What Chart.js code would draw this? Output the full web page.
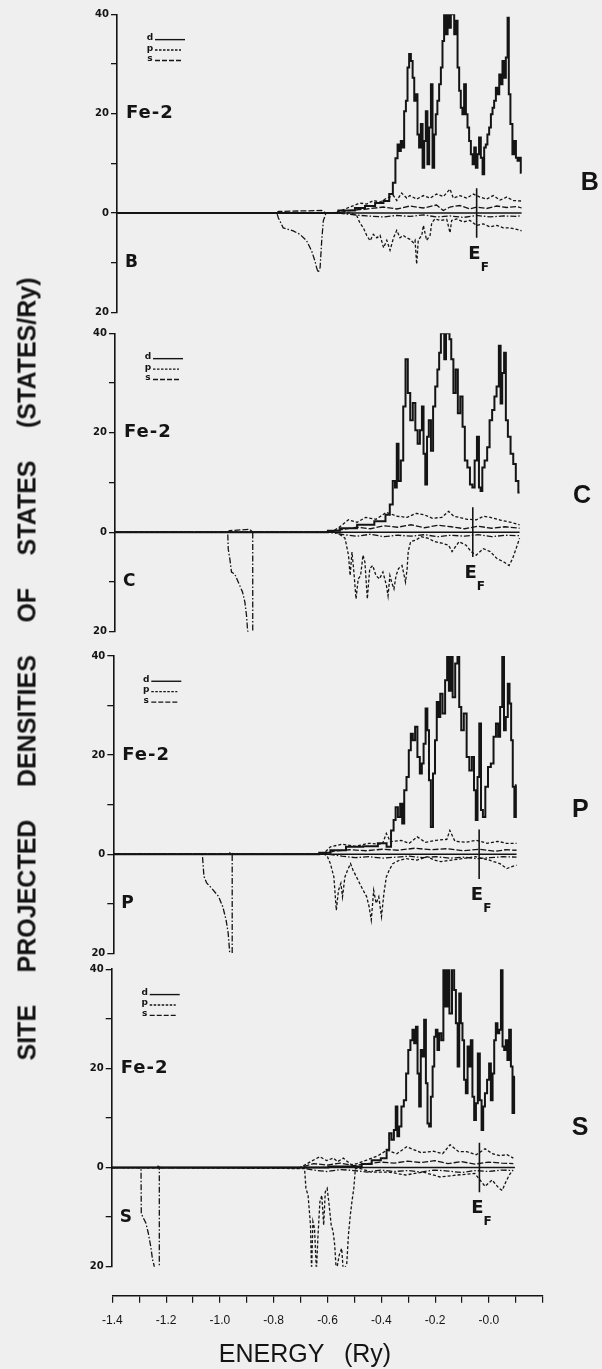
<!DOCTYPE html>
<html>
<head>
<meta charset="utf-8">
<script src="https://cdn.jsdelivr.net/npm/chart.js@4.4.0/dist/chart.umd.min.js"></script>
<style>
  html, body { margin: 0; padding: 0; background: #efefef; }
  #page { position: relative; width: 602px; height: 1369px; overflow: hidden; }
  canvas { position: absolute; left: 0; }
  #ytitle {
    position: absolute; left: -365.5px; top: 653.5px; width: 783px; height: 30px;
    display: flex; justify-content: space-between; align-items: center;
    transform: rotate(-90deg); transform-origin: center;
    font: bold 25px "Liberation Sans", Arial, sans-serif; color: #141414; line-height: 30px;
  }
  #xtitle {
    position: absolute; left: 205px; width: 200px; top: 1338px; height: 30px;
    text-align: center; word-spacing: 13px;
    font: 25px "Liberation Sans", Arial, sans-serif; color: #141414; line-height: 30px;
  }
</style>
</head>
<body>
<div id="page">
  <canvas id="panelB"></canvas>
  <canvas id="panelC"></canvas>
  <canvas id="panelP"></canvas>
  <canvas id="panelS"></canvas>
  <canvas id="axisX"></canvas>
  <div id="ytitle"><span>SITE</span><span>PROJECTED</span><span>DENSITIES</span><span>OF</span><span>STATES</span><span>(STATES/Ry)</span></div>
  <div id="xtitle">ENERGY (Ry)</div>
</div>
<script>
// axis ticks
const energyTicks = [-1.4, -1.2, -1.0, -0.8, -0.6, -0.4, -0.2, 0.0];
const energyTickLabels = ['-1.4', '-1.2', '-1.0', '-0.8', '-0.6', '-0.4', '-0.2', '-0.0'];
const dosTicks = [40, 20, 0, -20];
const dosTickLabels = ['40', '20', '0', '20'];

// ---- Fe-2 / B ----
const boronFermi = -0.063;
const boronEnergyD = [-1.4, -0.62, -0.534, -0.497, -0.459, -0.422, -0.397, -0.379, -0.370, -0.360, -0.354, -0.348, -0.342, -0.336, -0.329, -0.323, -0.317, -0.311, -0.304, -0.298, -0.292, -0.286, -0.280, -0.274, -0.267, -0.261, -0.255, -0.249, -0.243, -0.236, -0.230, -0.224, -0.218, -0.212, -0.206, -0.199, -0.193, -0.187, -0.181, -0.174, -0.168, -0.162, -0.156, -0.150, -0.143, -0.137, -0.131, -0.125, -0.119, -0.113, -0.106, -0.100, -0.094, -0.088, -0.081, -0.075, -0.069, -0.063, -0.057, -0.051, -0.044, -0.038, -0.032, -0.026, -0.020, -0.013, -0.007, -0.001, 0.005, 0.012, 0.018, 0.024, 0.030, 0.036, 0.042, 0.049, 0.055, 0.058, 0.067, 0.073, 0.080, 0.086, 0.092, 0.098, 0.104];
const boronFeD = [0, 0, 0.5, 1, 1.4, 2, 2.4, 3.8, 6.1, 11, 13.8, 12.5, 14.5, 13.2, 20.5, 22.6, 29.3, 32, 30.6, 27.2, 22.6, 23.9, 15.8, 13.2, 17.9, 9.1, 14.5, 20.5, 9.8, 17.2, 25.9, 9.1, 15.8, 19.9, 22.6, 25.9, 29.3, 34.6, 40, 36, 40, 37.3, 40, 40, 36, 38.7, 29.3, 24.6, 21.2, 19.9, 25.9, 19.9, 17.2, 14.5, 11.8, 9.8, 13.2, 9.1, 11.8, 15.2, 11.1, 7.8, 13.2, 13.8, 15.8, 17.2, 19.9, 21.2, 22.6, 25.2, 23.9, 27.9, 25.9, 30.6, 27.2, 31.3, 39.3, 23.9, 17.9, 11.8, 14.5, 11.1, 10.5, 11.1, 8.1];
const boronEnergyFeP = [-1.4, -0.596, -0.571, -0.534, -0.497, -0.472, -0.447, -0.422, -0.397, -0.372, -0.360, -0.342, -0.323, -0.311, -0.286, -0.261, -0.236, -0.212, -0.187, -0.162, -0.150, -0.125, -0.100, -0.075, -0.051, -0.026, -0.001, 0.024, 0.049, 0.073, 0.104];
const boronFeP = [0, 0, 0.4, 1.2, 2, 1.8, 2.5, 2.2, 3, 3.5, 2.5, 4, 3, 3.5, 2.8, 3.5, 3, 3.8, 3.3, 4.8, 3, 3.5, 3, 3.8, 3.2, 2.8, 3.5, 2.6, 3.2, 2.5, 2.4];
const boronEnergyFeS = [-1.4, -0.806, -0.80, -0.64, -0.623, -0.58, -0.534, -0.472, -0.409, -0.36, -0.311, -0.261, -0.212, -0.187, -0.162, -0.125, -0.088, -0.063, -0.026, 0.012, 0.049, 0.086, 0.104];
const boronFeS = [0, 0, 0.3, 0.5, 0, 0, 0.5, 0.8, 1.2, 0.8, 1.4, 1, 1.6, 0.5, 1.2, 1.5, 0.8, 1.2, 0.9, 1.4, 1.1, 1.3, 1];
const boronEnergyLigS = [-1.4, -0.806, -0.800, -0.782, -0.745, -0.720, -0.695, -0.676, -0.664, -0.658, -0.652, -0.645, -0.639, -0.633, -0.623, -0.58, -0.534, -0.472, -0.409, -0.36, -0.311, -0.261, -0.212, -0.162, -0.113, -0.063, -0.013, 0.036, 0.086, 0.104];
const boronLigS = [0, 0, -1, -3, -3.6, -4.3, -5.6, -7.7, -9.7, -11, -12, -11, -5.6, -1.6, 0, 0, -0.3, -0.6, -0.8, -0.5, -0.7, -0.4, -0.8, -0.6, -0.9, -0.5, -0.8, -0.6, -0.7, -0.5];
const boronEnergyLigP = [-1.4, -0.62, -0.534, -0.509, -0.497, -0.484, -0.472, -0.459, -0.447, -0.434, -0.422, -0.409, -0.397, -0.385, -0.372, -0.360, -0.348, -0.336, -0.323, -0.311, -0.298, -0.292, -0.286, -0.280, -0.267, -0.261, -0.255, -0.249, -0.236, -0.230, -0.218, -0.199, -0.174, -0.162, -0.156, -0.137, -0.113, -0.088, -0.063, -0.038, -0.013, 0.012, 0.036, 0.061, 0.086, 0.104];
const boronLigP = [0, 0, 0, -0.5, -2, -3, -4.5, -5.6, -4.3, -5, -4.5, -7, -5.5, -7.5, -5, -3.5, -5, -4.5, -5, -5.3, -6, -5.5, -10.3, -5.5, -4.5, -2.5, -4, -5.5, -4.5, -2, -1.2, -1.5, -1.3, -4, -1.5, -1.2, -1.8, -1.5, -2.5, -2.2, -2.8, -2.5, -3, -3, -3.3, -3.6];

// ---- Fe-2 / C ----
const carbonFermi = -0.070;
const carbonEnergyD = [-1.4, -0.62, -0.597, -0.532, -0.468, -0.404, -0.385, -0.372, -0.363, -0.355, -0.350, -0.342, -0.333, -0.324, -0.316, -0.307, -0.298, -0.288, -0.279, -0.271, -0.262, -0.256, -0.250, -0.243, -0.237, -0.230, -0.221, -0.214, -0.205, -0.198, -0.192, -0.185, -0.179, -0.173, -0.166, -0.160, -0.153, -0.147, -0.137, -0.130, -0.121, -0.112, -0.104, -0.095, -0.085, -0.076, -0.067, -0.059, -0.050, -0.044, -0.038, -0.031, -0.021, -0.012, -0.003, 0.007, 0.014, 0.023, 0.031, 0.036, 0.043, 0.050, 0.056, 0.065, 0.076, 0.085, 0.095, 0.104];
const carbonFeD = [0, 0, 0.3, 0.8, 1.5, 2.2, 3.5, 5.6, 10.3, 9, 17.8, 10.3, 14.4, 25.3, 34.8, 28, 22.5, 26, 20.5, 17.8, 20.5, 25.3, 15.8, 9.6, 19.2, 22.5, 16.4, 25.3, 29.3, 32.7, 36.1, 40, 40, 34.8, 40, 40, 38.8, 34.8, 28, 32.7, 23.9, 27.3, 21.2, 14.4, 13, 9.6, 9, 14.4, 19.2, 9, 8.3, 13, 14.4, 17.1, 22.5, 24.6, 27.3, 29.3, 37.5, 25.9, 32, 36.1, 22.5, 19.2, 15.8, 13.7, 10.3, 8];
const carbonEnergyFeP = [-1.4, -0.60, -0.571, -0.532, -0.50, -0.468, -0.43, -0.391, -0.35, -0.314, -0.28, -0.250, -0.22, -0.185, -0.160, -0.14, -0.121, -0.09, -0.057, -0.03, -0.005, 0.035, 0.072, 0.104];
const carbonFeP = [0, 0, 0.8, 2.5, 2, 3, 2.6, 4, 3.2, 3, 3.8, 3.5, 2.8, 3, 4.2, 3.2, 3, 2.6, 2.5, 3.2, 3, 2.4, 2, 1.5];
const carbonEnergyFeS = [-1.4, -0.981, -0.975, -0.90, -0.888, -0.60, -0.55, -0.50, -0.45, -0.40, -0.35, -0.30, -0.25, -0.20, -0.15, -0.10, -0.05, 0, 0.05, 0.104];
const carbonFeS = [0, 0, 0.3, 0.6, 0, 0, 0.6, 1, 0.7, 1.3, 1, 1.5, 0.9, 1.4, 1.1, 0.7, 1.2, 0.8, 1.1, 0.8];
const carbonEnergyLigS = [-1.4, -0.981, -0.979, -0.973, -0.967, -0.955, -0.942, -0.926, -0.917, -0.911, -0.907, -0.894, -0.888, -0.888, -0.60, -0.55, -0.50, -0.45, -0.40, -0.35, -0.30, -0.25, -0.20, -0.15, -0.10, -0.05, 0, 0.05, 0.104];
const carbonLigS = [0, 0, -3.4, -5.4, -8, -8.4, -10, -12, -14.1, -16.8, -19.8, -21, -21, 0, 0, -0.5, -0.8, -0.4, -0.9, -0.6, -0.8, -0.5, -0.9, -0.6, -0.8, -0.5, -0.9, -0.6, -0.7];
const carbonEnergyLigP = [-1.4, -0.60, -0.571, -0.545, -0.532, -0.526, -0.519, -0.513, -0.504, -0.496, -0.487, -0.478, -0.471, -0.462, -0.453, -0.442, -0.430, -0.417, -0.404, -0.391, -0.385, -0.378, -0.372, -0.363, -0.355, -0.346, -0.333, -0.320, -0.314, -0.310, -0.301, -0.282, -0.262, -0.237, -0.211, -0.185, -0.160, -0.147, -0.121, -0.095, -0.076, -0.057, -0.031, -0.005, 0.020, 0.046, 0.065, 0.078, 0.091, 0.104];
const carbonLigP = [0, 0, -0.2, -1.2, -4.6, -8.7, -4, -7.3, -13.4, -9.4, -8.7, -4.6, -6, -13.4, -7.3, -6.7, -8.7, -9.4, -8, -10.7, -12.8, -8.7, -10, -11.4, -8.7, -7.3, -6.7, -10, -7.3, -3.9, -1.9, -1.6, -0.9, -1.2, -1.9, -2.2, -2.6, -3.9, -1.9, -2.6, -3.9, -4.6, -3.3, -3.9, -5.3, -6, -6.7, -5.3, -3.3, -1.2];

// ---- Fe-2 / P ----
const phosFermi = -0.040;
const phosEnergyD = [-1.4, -0.65, -0.619, -0.567, -0.503, -0.439, -0.394, -0.374, -0.361, -0.355, -0.346, -0.338, -0.329, -0.323, -0.314, -0.306, -0.297, -0.291, -0.282, -0.274, -0.265, -0.256, -0.250, -0.243, -0.235, -0.230, -0.223, -0.216, -0.207, -0.201, -0.194, -0.188, -0.181, -0.171, -0.162, -0.156, -0.149, -0.143, -0.134, -0.124, -0.117, -0.111, -0.102, -0.092, -0.081, -0.072, -0.062, -0.056, -0.049, -0.043, -0.036, -0.030, -0.022, -0.012, -0.002, 0.009, 0.018, 0.027, 0.034, 0.042, 0.050, 0.055, 0.063, 0.070, 0.076, 0.082, 0.088, 0.094, 0.099];
const phosFeD = [0, 0, 0.3, 0.8, 1.5, 1.6, 2.2, 1.5, 4.8, 6.9, 9.5, 7.5, 10.2, 6.2, 12.9, 15.6, 21, 24.3, 23, 25.7, 19.6, 16.3, 18.3, 22.3, 29.4, 25, 14.9, 5.5, 16.3, 23, 30.7, 27.7, 32.4, 28.4, 35.1, 40, 33, 40, 31.7, 38.5, 40, 29.7, 25, 28.4, 19.6, 16.9, 19.6, 12.9, 6.9, 15.6, 26.4, 8.9, 7.5, 13.6, 17.6, 18.3, 23.7, 26.4, 23.7, 29.7, 40, 25, 27.7, 34.4, 30.4, 23, 13.6, 7.5, 13.9];
const phosEnergyFeP = [-1.4, -0.97, -0.965, -0.955, -0.62, -0.593, -0.55, -0.50, -0.45, -0.40, -0.385, -0.37, -0.33, -0.30, -0.27, -0.24, -0.20, -0.16, -0.149, -0.13, -0.09, -0.05, -0.01, 0.03, 0.06, 0.099];
const phosFeP = [0, 0, 0.4, 0, 0, 1.5, 2, 1.6, 2.2, 2, 4.2, 2.5, 2.8, 2.2, 3.5, 2.4, 2.8, 3, 4.8, 2.6, 2.4, 2.8, 2.2, 2.6, 2.2, 2.2];
const phosEnergyFeS = [-1.4, -0.62, -0.58, -0.52, -0.46, -0.40, -0.34, -0.28, -0.22, -0.16, -0.10, -0.04, 0.02, 0.06, 0.099];
const phosFeS = [0, 0, 0.6, 0.9, 0.7, 1, 0.8, 1.2, 0.9, 1.1, 0.7, 1, 0.6, 0.9, 0.8];
const phosEnergyLigS = [-1.4, -1.069, -1.063, -1.053, -1.034, -1.009, -0.993, -0.981, -0.973, -0.968, -0.966, -0.958, -0.958, -0.60, -0.55, -0.50, -0.45, -0.40, -0.35, -0.30, -0.25, -0.20, -0.15, -0.10, -0.05, 0, 0.05, 0.099];
const phosLigS = [0, 0, -4.5, -5.8, -6.9, -8.5, -10.6, -13.2, -15.9, -19.3, -21, -21, 0, 0, -0.4, -0.7, -0.5, -0.8, -0.6, -0.4, -0.7, -0.5, -0.8, -0.6, -0.9, -0.7, -0.5, -0.6];
const phosEnergyLigP = [-1.4, -0.62, -0.606, -0.593, -0.580, -0.571, -0.563, -0.554, -0.548, -0.539, -0.529, -0.518, -0.509, -0.496, -0.484, -0.471, -0.458, -0.449, -0.441, -0.432, -0.423, -0.413, -0.403, -0.394, -0.385, -0.374, -0.361, -0.336, -0.310, -0.271, -0.233, -0.207, -0.181, -0.143, -0.104, -0.053, -0.002, 0.037, 0.063, 0.076, 0.099];
const phosLigP = [0, 0, -0.2, -1.9, -4.6, -11.3, -7.3, -5.9, -8.6, -4.6, -3.2, -1.9, -3.2, -4.6, -5.9, -7.3, -8.6, -10.6, -13.3, -7.3, -9.9, -8.6, -12.6, -7.9, -4.6, -3.2, -1.9, -1.2, -0.9, -1.2, -0.5, -1.2, -1.5, -1.2, -0.9, -0.5, -1.2, -1.9, -2.9, -2.6, -2.2];

// ---- Fe-2 / S ----
const sulfurFermi = -0.033;
const sulfurEnergyD = [-1.4, -0.70, -0.489, -0.452, -0.415, -0.384, -0.372, -0.365, -0.355, -0.347, -0.341, -0.335, -0.328, -0.318, -0.310, -0.301, -0.294, -0.285, -0.279, -0.272, -0.266, -0.260, -0.254, -0.248, -0.242, -0.235, -0.229, -0.223, -0.217, -0.210, -0.204, -0.198, -0.192, -0.186, -0.180, -0.170, -0.164, -0.155, -0.149, -0.140, -0.130, -0.124, -0.117, -0.111, -0.105, -0.099, -0.093, -0.087, -0.080, -0.074, -0.068, -0.062, -0.056, -0.049, -0.043, -0.035, -0.028, -0.022, -0.016, -0.009, 0.000, 0.006, 0.013, 0.019, 0.025, 0.031, 0.037, 0.044, 0.050, 0.056, 0.062, 0.068, 0.074, 0.081, 0.087, 0.093, 0.099];
const sulfurFeD = [0, 0, 0.2, 0.7, 1.5, 1.9, 3.6, 6.9, 5.6, 7.6, 12.3, 6.3, 8.3, 12.3, 13.6, 19, 23.7, 25.7, 27.8, 25.1, 28.4, 19, 12.3, 23.7, 22.4, 29.8, 17, 8.9, 8.3, 14.3, 20.4, 26.4, 27.8, 23.7, 27.1, 25.7, 40, 32.5, 40, 31.1, 40, 35.8, 29.1, 20.4, 35.1, 29.1, 25.7, 17.7, 15, 24.4, 20.4, 25.7, 14.3, 9.6, 13, 23, 13.6, 7.6, 12.3, 15, 17.7, 21, 13.6, 19, 25.7, 29.1, 27.1, 27.8, 40, 24.4, 23.7, 25.7, 21.7, 27.8, 20.4, 11, 18.3];
const sulfurEnergyFeP = [-1.4, -1.23, -1.226, -1.22, -0.70, -0.66, -0.626, -0.601, -0.576, -0.56, -0.539, -0.51, -0.489, -0.452, -0.41, -0.377, -0.34, -0.303, -0.25, -0.204, -0.17, -0.142, -0.11, -0.080, -0.045, -0.012, 0.015, 0.044, 0.07, 0.093];
const sulfurFeP = [0, 0, 0.5, 0, 0, 1.2, 2.2, 1.4, 1.9, 1.2, 1.9, 0.6, 0.8, 1.5, 2.4, 3.5, 2.8, 4.2, 3, 3.3, 2.8, 4.6, 3.2, 3.2, 2.6, 3.8, 2.8, 2.4, 2.6, 1.9];
const sulfurEnergyFeS = [-1.4, -0.70, -0.65, -0.60, -0.55, -0.50, -0.45, -0.40, -0.35, -0.30, -0.25, -0.20, -0.15, -0.10, -0.05, 0, 0.05, 0.093];
const sulfurFeS = [0, 0, 0.8, 0.5, 0.9, 0.4, 0.8, 1.1, 0.9, 1.3, 1, 1.4, 0.8, 1.2, 0.7, 1.1, 0.9, 0.8];
const sulfurEnergyLigS = [-1.4, -1.291, -1.290, -1.285, -1.273, -1.264, -1.255, -1.248, -1.243, -1.239, -1.223, -1.223, -0.70, -0.65, -0.60, -0.55, -0.50, -0.45, -0.40, -0.35, -0.30, -0.25, -0.20, -0.15, -0.10, -0.05, 0, 0.05, 0.093];
const sulfurLigS = [0, 0, -9.2, -9.9, -11.2, -13.2, -15.9, -18.6, -19.6, -21, -21, 0, 0, -0.5, -0.8, -0.4, -0.6, -0.9, -0.5, -0.8, -0.6, -0.9, -0.5, -0.7, -1, -0.6, -0.8, -0.5, -0.6];
const sulfurEnergyLigP = [-1.4, -0.683, -0.678, -0.670, -0.661, -0.657, -0.652, -0.646, -0.639, -0.633, -0.626, -0.619, -0.612, -0.606, -0.599, -0.593, -0.584, -0.577, -0.571, -0.565, -0.554, -0.545, -0.539, -0.526, -0.520, -0.513, -0.507, -0.500, -0.494, -0.475, -0.436, -0.372, -0.307, -0.243, -0.179, -0.115, -0.050, -0.012, 0.014, 0.040, 0.052, 0.065, 0.078, 0.091];
const sulfurLigP = [0, -0.2, -4.2, -5.6, -11.6, -21, -10.9, -12.3, -21, -13.6, -6.9, -5.6, -11.6, -4.9, -4.2, -6.9, -11.6, -12.9, -15.6, -21, -17.6, -16.3, -21, -19.3, -13.6, -9.6, -6.9, -4.2, -0.2, -0.2, -0.9, -0.9, -1.5, -0.9, -1.9, -1.5, -1.2, -3.8, -2.5, -4.2, -4.6, -2.9, -1.5, -0.5];

const ink = '#141414';
const RY_PX = 269;            // page pixels per Ry
const AXIS_LEFT = 112.3;      // -1.4 Ry on the energy axis

// panel frames (page pixels) and label spots
const panels = [
  { id: 'panelB', name: 'B', left: 117, top: 14.3, bottom: 312.3, sideX: 0.358, sideY: 6.1, fermi: boronFermi,
    d: [boronEnergyD, boronFeD], feP: [boronEnergyFeP, boronFeP], feS: [boronEnergyFeS, boronFeS],
    ligS: [boronEnergyLigS, boronLigS], ligP: [boronEnergyLigP, boronLigP] },
  { id: 'panelC', name: 'C', left: 115, top: 333.3, bottom: 631.7, sideX: 0.336, sideY: 7.3, fermi: carbonFermi,
    d: [carbonEnergyD, carbonFeD], feP: [carbonEnergyFeP, carbonFeP], feS: [carbonEnergyFeS, carbonFeS],
    ligS: [carbonEnergyLigS, carbonLigS], ligP: [carbonEnergyLigP, carbonLigP] },
  { id: 'panelP', name: 'P', left: 113.3, top: 656, bottom: 953.3, sideX: 0.336, sideY: 8.9, fermi: phosFermi,
    d: [phosEnergyD, phosFeD], feP: [phosEnergyFeP, phosFeP], feS: [phosEnergyFeS, phosFeS],
    ligS: [phosEnergyLigS, phosLigS], ligP: [phosEnergyLigP, phosLigP] },
  { id: 'panelS', name: 'S', left: 111.7, top: 969.3, bottom: 1266.7, sideX: 0.341, sideY: 7.9, fermi: sulfurFermi,
    d: [sulfurEnergyD, sulfurFeD], feP: [sulfurEnergyFeP, sulfurFeP], feS: [sulfurEnergyFeS, sulfurFeS],
    ligS: [sulfurEnergyLigS, sulfurLigS], ligP: [sulfurEnergyLigP, sulfurLigP] }
];

function pts(energy, dos) {
  return energy.map((e, i) => ({ x: e, y: dos[i] }));
}

function curve(data, width, dash, stepped) {
  return { data, borderColor: ink, borderWidth: width, borderDash: dash, stepped: stepped || false,
           pointRadius: 0, tension: 0, fill: false };
}

// panel texts: Fe-2, site letter, d/p/s key, E_F, side letter
const panelDecor = {
  id: 'panelDecor',
  afterDatasetsDraw(chart, args, o) {
    const { ctx, chartArea: a, scales: { x, y } } = chart;
    ctx.save();
    ctx.fillStyle = ink;
    ctx.strokeStyle = ink;
    ctx.textBaseline = 'middle';
    ctx.textAlign = 'left';

    ctx.font = 'bold 18px "DejaVu Sans"';
    ctx.letterSpacing = '1px';
    ctx.fillText('Fe-2', a.left + 9, y.getPixelForValue(20));
    ctx.letterSpacing = '0px';

    ctx.font = 'bold 17px "DejaVu Sans"';
    ctx.fillText(o.name, a.left + 8, y.getPixelForValue(-10));

    // d / p / s key
    ctx.font = 'bold 9px "DejaVu Sans"';
    ctx.textAlign = 'center';
    ctx.textBaseline = 'alphabetic';
    [['d', [], 34.8, 68], ['p', [2.5, 1.5], 32.7, 64], ['s', [5, 2], 30.6, 64]].forEach(([t, dash, v, end]) => {
      const py = y.getPixelForValue(v);
      ctx.fillText(t, a.left + 33, py);
      ctx.setLineDash(dash);
      ctx.lineWidth = 1.4;
      ctx.beginPath();
      ctx.moveTo(a.left + 38, py - 0.5);
      ctx.lineTo(a.left + end, py - 0.5);
      ctx.stroke();
    });
    ctx.setLineDash([]);

    // Fermi level label
    const fx = x.getPixelForValue(o.fermi);
    ctx.textBaseline = 'middle';
    ctx.font = 'bold 18px "DejaVu Sans"';
    ctx.textAlign = 'right';
    ctx.fillText('E', fx + 4, y.getPixelForValue(-8.3));
    ctx.font = 'bold 12px "DejaVu Sans"';
    ctx.textAlign = 'left';
    ctx.fillText('F', fx + 4, y.getPixelForValue(-11));

    // compound letter on the right
    ctx.font = 'bold 25px "Liberation Sans"';
    ctx.textAlign = 'center';
    ctx.fillText(o.name, x.getPixelForValue(o.sideX), y.getPixelForValue(o.sideY));
    ctx.restore();
  }
};

panels.forEach(pn => {
  const cv = document.getElementById(pn.id);
  const top = Math.floor(pn.top) - 10;
  const height = Math.ceil(pn.bottom) + 10 - top;
  cv.width = 602;
  cv.height = height;
  cv.style.top = top + 'px';
  const eD = pn.d[0];
  const base = [eD[0], eD[eD.length - 1]];

  new Chart(cv, {
    type: 'line',
    data: {
      datasets: [
        curve(pts(pn.d[0], pn.d[1]), 2, [], 'middle'),
        curve(pts([pn.fermi, pn.fermi], [5, -5]), 1.6, []),
        curve(pts(base, [0, 0]), 1.5, []),
        curve(pts(pn.feP[0], pn.feP[1]), 1.3, [3, 2]),
        curve(pts(pn.feS[0], pn.feS[1]), 1.3, [6, 2]),
        curve(pts(pn.ligP[0], pn.ligP[1]), 1.3, [3, 2]),
        curve(pts(pn.ligS[0], pn.ligS[1]), 1.3, [6, 2, 1.5, 2])
      ]
    },
    options: {
      responsive: false,
      animation: false,
      devicePixelRatio: 1,
      layout: {
        padding: { left: pn.left - 40, right: 602 - pn.left - 1.6 * RY_PX, top: pn.top - top, bottom: top + height - pn.bottom }
      },
      plugins: {
        legend: { display: false },
        tooltip: { enabled: false },
        panelDecor: { name: pn.name, fermi: pn.fermi, sideX: pn.sideX, sideY: pn.sideY }
      },
      scales: {
        x: { type: 'linear', display: false, min: -1.4, max: 0.2 },
        y: {
          min: -20,
          max: 40,
          afterFit: s => { s.width = 40; },
          border: { color: ink, width: 1.6 },
          grid: { drawOnChartArea: false, color: ink, lineWidth: 1.3, tickLength: 6 },
          ticks: {
            stepSize: 10,
            padding: 2,
            color: ink,
            font: { family: 'DejaVu Sans', size: 10, weight: 'bold' },
            callback: v => {
              const i = dosTicks.indexOf(v);
              return i >= 0 ? dosTickLabels[i] : '';
            }
          }
        }
      }
    },
    plugins: [panelDecor]
  });
});

// shared energy axis
const axisCv = document.getElementById('axisX');
axisCv.width = 602;
axisCv.height = 99;
axisCv.style.top = '1270px';
new Chart(axisCv, {
  type: 'line',
  data: { datasets: [] },
  options: {
    responsive: false,
    animation: false,
    devicePixelRatio: 1,
    layout: { padding: { left: AXIS_LEFT, right: 602 - AXIS_LEFT - 1.6 * RY_PX, top: 15, bottom: 0 } },
    plugins: { legend: { display: false }, tooltip: { enabled: false } },
    scales: {
      x: {
        type: 'linear',
        position: 'bottom',
        min: -1.4,
        max: 0.2,
        afterFit: s => { s.height = 73.3; },
        border: { color: ink, width: 1.5 },
        grid: { drawOnChartArea: false, color: ink, lineWidth: 1.2, tickLength: 7 },
        ticks: {
          stepSize: 0.1,
          autoSkip: false,
          maxRotation: 0,
          padding: 11,
          color: ink,
          font: { family: 'Liberation Sans', size: 12 },
          callback: v => {
            const i = energyTicks.findIndex(t => Math.abs(t - v) < 1e-6);
            return i >= 0 ? energyTickLabels[i] : '';
          }
        }
      },
      y: { display: false, min: 0, max: 1 }
    }
  }
});
</script>
</body>
</html>
